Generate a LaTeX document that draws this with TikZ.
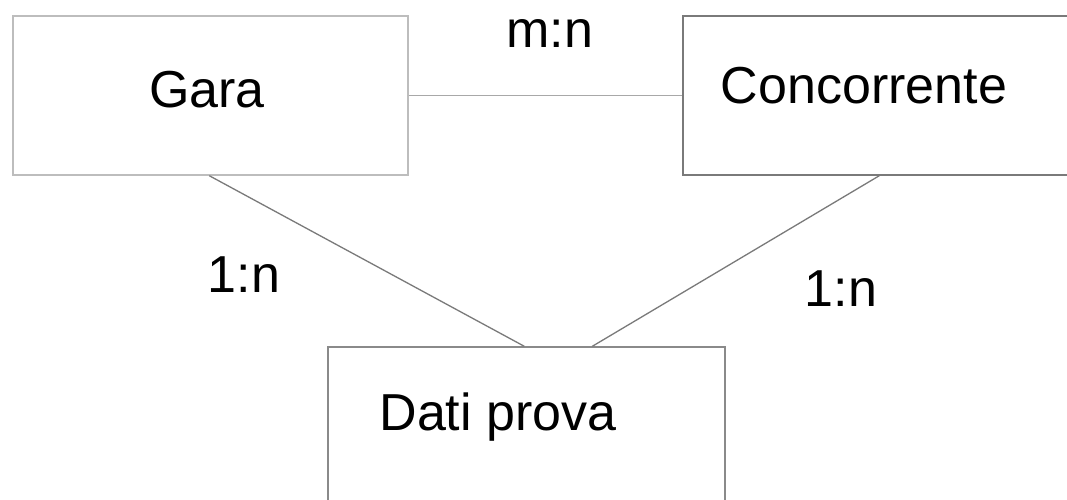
\documentclass[tikz,border=0pt]{standalone}
\usepackage{fontspec}
\setmainfont{Liberation Sans}
\usetikzlibrary{calc}
\definecolor{lightedge}{HTML}{BDBDBD}
\definecolor{midedge}{HTML}{8A8A8A}
\definecolor{darkedge}{HTML}{7A7A7A}
\definecolor{linkgray}{HTML}{A8A8A8}
\tikzset{
  entity/.style={draw, line width=1.4pt, inner sep=0pt, fill=white},
  lbl/.style={font=\fontsize{52}{60}\selectfont, anchor=base, inner sep=0pt, text=black},
  link/.style={line width=1.3pt}
}
\begin{document}
\begin{tikzpicture}[x=1pt,y=-1pt]
\useasboundingbox[fill=white] (0,0) rectangle (1067,499);
% entities
\node[entity, draw=lightedge, minimum width=395pt, minimum height=159pt] (gara) at (210.5,95.5) {};
\node[entity, draw=darkedge, minimum width=390pt, minimum height=159pt] (conc) at (878,95.5) {};
\node[entity, draw=midedge, minimum width=397pt, minimum height=170pt] (dati) at (526.5,432) {};
% texts
\node[lbl] (tgara) at (207,107) {Gara};
\node[lbl] (tconc) at (864,103) {Concorrente};
\node[lbl] (tdati) at (498,430) {Dati prova};
% connector end points
\coordinate (g1) at ($(gara.south west)+(197,0)$);
\coordinate (d1) at ($(dati.north west)+(197,0)$);
\coordinate (c1) at ($(conc.south west)+(197,0)$);
\coordinate (d2) at ($(dati.north west)+(265,0)$);
% connectors
\draw[link, draw=linkgray] (gara.east) -- (conc.west);
\draw[link, draw=darkedge] (g1) -- (d1);
\draw[link, draw=darkedge] (c1) -- (d2);
% cardinalities
\node[lbl] (lmn) at (550,47) {m:n};
\node[lbl] (l1) at (244,292) {1:n};
\node[lbl] (l2) at (841,306) {1:n};
\end{tikzpicture}
\end{document}
